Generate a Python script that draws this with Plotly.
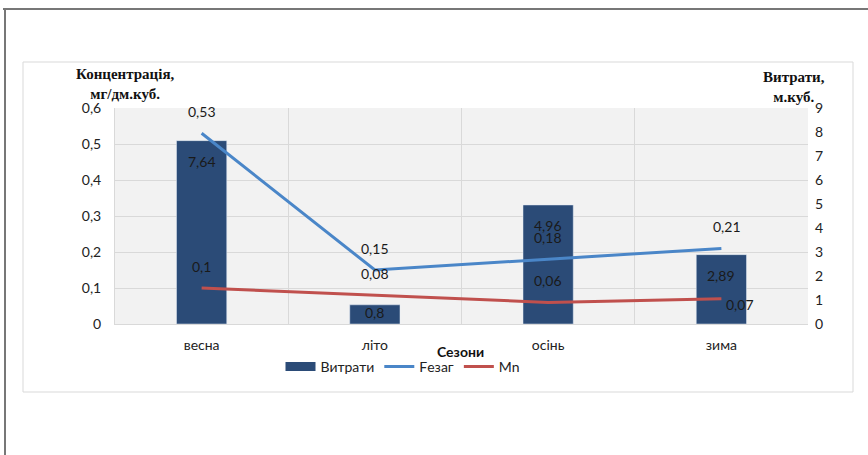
import plotly.graph_objects as go

seasons = ["весна", "літо", "осінь", "зима"]
vytraty = [7.64, 0.8, 4.96, 2.89]
fe = [0.53, 0.15, 0.18, 0.21]
mn = [0.1, 0.08, 0.06, 0.07]
left_ticks = [0, 0.1, 0.2, 0.3, 0.4, 0.5, 0.6]
right_ticks = [0, 1, 2, 3, 4, 5, 6, 7, 8, 9]

def fmt(v):
    return ("%g" % v).replace(".", ",")

W, H = 868, 455
L, R, T, B = 115, 60, 108, 131
pw, ph = W - L - R, H - T - B

def px(x):
    return (x - L) / pw

def py(y):
    return (H - B - y) / ph

FONT = "Lato, 'Open Sans', sans-serif"
BAR_C = "#2b4b77"
FE_C = "#4a86c8"
MN_C = "#c0504d"

fig = go.Figure()
fig.add_trace(go.Bar(x=seasons, y=vytraty, name="Витрати", marker_color=BAR_C,
                     width=0.29, yaxis="y", showlegend=False))
# legend-only entry to show a wide rectangular swatch like the original
fig.add_trace(go.Scatter(x=[None], y=[None], name="Витрати", mode="lines", yaxis="y",
                         line=dict(color=BAR_C, width=9), legendrank=1))
fig.add_trace(go.Scatter(x=seasons, y=fe, name="Fезаг", mode="lines", yaxis="y2",
                         line=dict(color=FE_C, width=3), legendrank=2))
fig.add_trace(go.Scatter(x=seasons, y=mn, name="Mn", mode="lines", yaxis="y2",
                         line=dict(color=MN_C, width=3), legendrank=3))

ann = []
lab_font = dict(family=FONT, size=14, color="#1a1a1a")
for i, s in enumerate(seasons):
    ann.append(dict(x=s, y=fe[i], xref="x", yref="y2", text=fmt(fe[i]),
                    showarrow=False, yshift=22, xshift=(6 if i == 3 else 0), font=lab_font))
    if i == 3:
        ann.append(dict(x=s, y=mn[i], xref="x", yref="y2", text=fmt(mn[i]),
                        showarrow=False, yshift=-6, xshift=19, font=lab_font))
    else:
        ann.append(dict(x=s, y=mn[i], xref="x", yref="y2", text=fmt(mn[i]),
                        showarrow=False, yshift=22, font=lab_font))
    ann.append(dict(x=s, y=vytraty[i], xref="x", yref="y", text=fmt(vytraty[i]),
                    showarrow=False, yshift=(-8 if vytraty[i] < 1 else -21), font=lab_font))

title_font = dict(family="'Liberation Serif', serif", size=15, color="#111")
ann.append(dict(x=px(125), y=py(84), xref="paper", yref="paper", showarrow=False,
                xanchor="center", yanchor="middle",
                text="<b>Концентрація,</b><br><b>мг/дм.куб.</b>", font=title_font,
                align="center"))
ann.append(dict(x=px(794), y=py(87), xref="paper", yref="paper", showarrow=False,
                xanchor="center", yanchor="middle",
                text="<b>Витрати,</b><br><b>м.куб.</b>", font=title_font, align="center"))
ann.append(dict(x=px(460), y=py(351), xref="paper", yref="paper", showarrow=False,
                xanchor="center", yanchor="middle",
                text="<b>Сезони</b>", font=dict(family=FONT, size=14, color="#111")))

shapes = [
    dict(type="rect", xref="paper", yref="paper", x0=px(23), x1=px(853), y0=py(392), y1=py(62),
         line=dict(color="#d9d9d9", width=1), layer="below"),
    dict(type="line", xref="paper", yref="paper", x0=px(3), x1=px(868), y0=py(9), y1=py(9),
         line=dict(color="#777", width=2)),
    dict(type="line", xref="paper", yref="paper", x0=px(5), x1=px(5), y0=py(8), y1=py(455),
         line=dict(color="#777", width=2)),
]

tf = dict(family=FONT, size=14, color="#222")
grid_vals = [v * 9 / 0.6 for v in left_ticks]

fig.update_layout(
    width=W, height=H, margin=dict(l=L, r=R, t=T, b=B),
    paper_bgcolor="white", plot_bgcolor="#f2f2f2",
    showlegend=True,
    legend=dict(orientation="h", x=px(403), y=py(367), xanchor="center", yanchor="middle",
                font=tf, itemwidth=30, tracegroupgap=0, bgcolor="rgba(0,0,0,0)"),
    xaxis=dict(type="category", range=[-0.5, 3.5], tickson="boundaries", showgrid=True,
               gridcolor="#d9d9d9", ticks="", showline=True, linecolor="#d9d9d9",
               tickfont=tf, ticklabelstandoff=8),
    yaxis=dict(range=[0, 9], side="right", tickvals=right_ticks,
               ticktext=[fmt(v) for v in right_ticks], showgrid=False, zeroline=False,
               tickfont=tf, ticklabelstandoff=6,
               minor=dict(tickvals=grid_vals, showgrid=True, gridcolor="#d9d9d9", ticks="")),
    yaxis2=dict(range=[0, 0.6], overlaying="y", side="left", tickvals=left_ticks,
                ticktext=[fmt(v) for v in left_ticks], showgrid=False, zeroline=False,
                tickfont=tf, ticklabelstandoff=10, showline=True, linecolor="#d9d9d9"),
    annotations=ann, shapes=shapes,
)
fig.write_html("out.html")
